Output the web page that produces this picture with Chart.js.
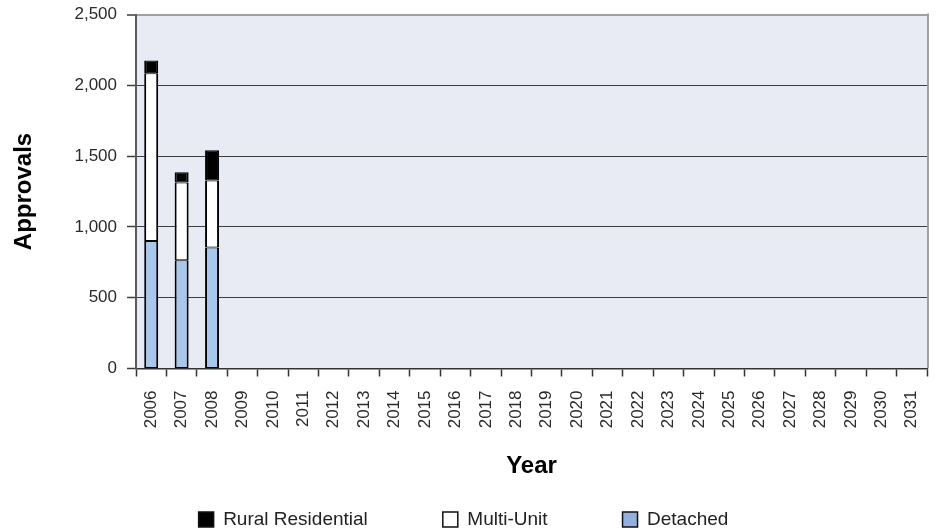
<!DOCTYPE html>
<html>
<head>
<meta charset="utf-8">
<script src="https://cdn.jsdelivr.net/npm/chart.js@4"></script>
<style>
  html, body { margin: 0; padding: 0; background: #fff; }
</style>
</head>
<body>
<canvas id="chart" width="938" height="532"></canvas>
<script>
const years = ['2006', '2007', '2008', '2009', '2010', '2011', '2012', '2013', '2014',
    '2015', '2016', '2017', '2018', '2019', '2020', '2021', '2022', '2023', '2024',
    '2025', '2026', '2027', '2028', '2029', '2030', '2031'];
const detached = [900, 765, 855];
const multiUnit = [1185, 548, 472];
const ruralResidential = [90, 73, 214];
const yMax = 2500;
const yStep = 500;

// fond du graphique + bord droit gris
const plotBackground = {
    id: 'plotBackground',
    beforeDraw(chart) {
        const { ctx, chartArea: a } = chart;
        ctx.save();
        ctx.fillStyle = '#e8eaf4';
        ctx.fillRect(a.left, a.top, a.right - a.left, a.bottom - a.top);
        ctx.strokeStyle = '#a0a0a0';
        ctx.lineWidth = 2;
        ctx.beginPath();
        ctx.moveTo(a.right + 1, a.top - 1);
        ctx.lineTo(a.right + 1, a.bottom);
        ctx.stroke();
        ctx.restore();
    }
};

Chart.defaults.font.family = '"Liberation Sans", Arial, sans-serif';
Chart.defaults.color = '#2a2a2a';

const barStyle = {
    borderColor: '#000',
    borderWidth: { left: 2, right: 2, top: 1, bottom: 1 },
    borderSkipped: false,
    barPercentage: 0.46,
    categoryPercentage: 1.0
};

new Chart(document.getElementById('chart'), {
    type: 'bar',
    data: {
        labels: years,
        datasets: [
            { label: 'Detached', data: detached, backgroundColor: '#a7c8ea', ...barStyle },
            { label: 'Multi-Unit', data: multiUnit, backgroundColor: '#ffffff', ...barStyle },
            { label: 'Rural Residential', data: ruralResidential, backgroundColor: '#000000', ...barStyle }
        ]
    },
    options: {
        responsive: false,
        animation: false,
        layout: { padding: { top: 14.5, right: 11, bottom: -7, left: 0 } },
        plugins: {
            tooltip: { enabled: false },
            legend: {
                position: 'bottom',
                reverse: true,
                labels: {
                    boxWidth: 15,
                    boxHeight: 15,
                    padding: 75,
                    color: '#222',
                    font: { size: 19 },
                    generateLabels(chart) {
                        const items = Chart.defaults.plugins.legend.labels.generateLabels(chart);
                        items.forEach(it => {
                            if (it.text === 'Detached') it.fillStyle = '#95afdc';
                            it.strokeStyle = '#111';
                            it.lineWidth = 1.5;
                        });
                        return items;
                    }
                }
            }
        },
        scales: {
            x: {
                stacked: true,
                afterFit(s) {
                    s.height = 66.5;
                    s.paddingLeft = 0;
                    s.paddingRight = 0;
                },
                border: { color: '#333', width: 1.5 },
                grid: {
                    offset: true,
                    drawOnChartArea: false,
                    tickLength: 8,
                    tickColor: '#333',
                    tickWidth: 1.5
                },
                ticks: {
                    autoSkip: false,
                    minRotation: 90,
                    maxRotation: 90,
                    padding: 14,
                    font: { size: 17 }
                },
                title: {
                    display: true,
                    text: 'Year',
                    color: '#000',
                    font: { size: 24, weight: 'bold' },
                    padding: { top: 0, bottom: -46 }
                }
            },
            y: {
                stacked: true,
                min: 0,
                max: yMax,
                afterFit(s) {
                    s.width = 136;
                    s.paddingTop = 0;
                    s.paddingBottom = 0;
                },
                border: { color: '#5a5a5a', width: 2 },
                grid: {
                    color: c => (c.tick && c.tick.value === yMax) ? '#a0a0a0' : '#3d3d3d',
                    lineWidth: c => (c.tick && c.tick.value === yMax) ? 2 : 1,
                    tickColor: '#3d3d3d',
                    tickWidth: 1.5,
                    tickLength: 9
                },
                ticks: {
                    stepSize: yStep,
                    padding: 10,
                    font: { size: 17 },
                    callback: v => v.toLocaleString('en-US')
                },
                title: {
                    display: true,
                    text: 'Approvals',
                    color: '#000',
                    font: { size: 24, weight: 'bold' },
                    padding: { top: 10, bottom: 0 }
                }
            }
        }
    },
    plugins: [plotBackground]
});
</script>
</body>
</html>
